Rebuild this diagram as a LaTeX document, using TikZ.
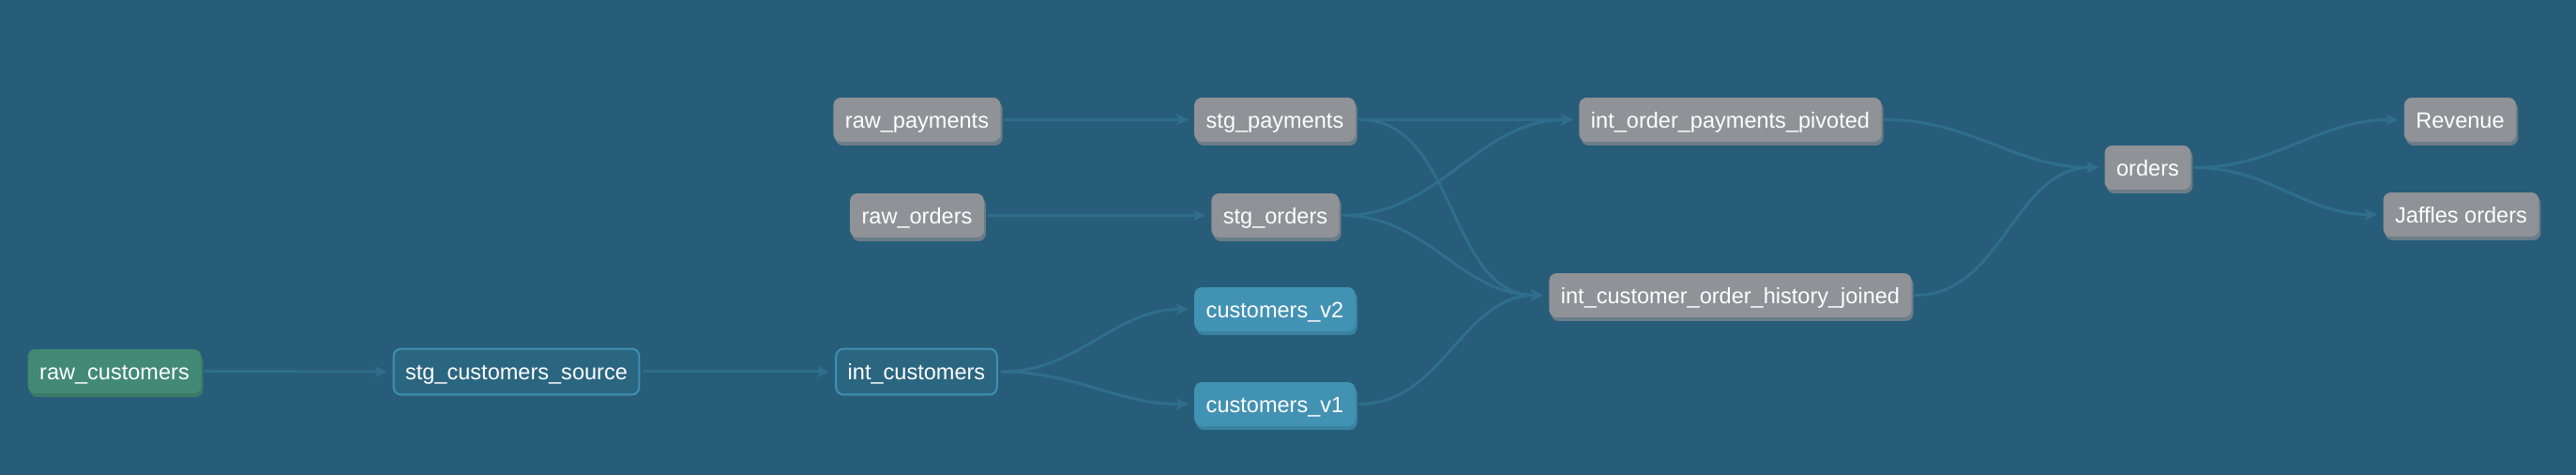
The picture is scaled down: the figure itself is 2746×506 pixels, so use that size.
\documentclass[tikz,border=0pt]{standalone}
\usepackage{fontspec}
\setmainfont{Liberation Sans}
\usetikzlibrary{arrows.meta, positioning}

\definecolor{bgblue}{HTML}{275D78}
\definecolor{edgeblue}{HTML}{2F6E8D}
\definecolor{modelgray}{HTML}{8F9296}
\definecolor{shadegray}{HTML}{6C7D89}
\definecolor{seedgreen}{HTML}{428A73}
\definecolor{shadegreen}{HTML}{3C7A68}
\definecolor{viewblue}{HTML}{4292B3}
\definecolor{shadeblue}{HTML}{3A82A1}
\definecolor{srcfill}{HTML}{2B6681}
\definecolor{srcline}{HTML}{3F8FB5}

\tikzset{
  model/.style={rectangle, rounded corners=0.16cm, minimum height=0.94cm,
    inner xsep=0.25cm, inner ysep=0pt, text=white,
    text height=0.5cm, text depth=0.14cm,
    font=\fontsize{13.4}{16}\selectfont},
  shaded/.style={preaction={fill=#1,
    transform canvas={xshift=0.04cm,yshift=-0.08cm}}},
  graybox/.style={model, fill=modelgray, shaded=shadegray},
  greenbox/.style={model, fill=seedgreen, shaded=shadegreen},
  bluebox/.style={model, fill=viewblue, shaded=shadeblue},
  linebox/.style={model, fill=srcfill, draw=srcline, line width=0.04cm,
    minimum height=0.98cm},
  flow/.style={draw=edgeblue, line width=0.06cm,
    -{Stealth[length=0.26cm,width=0.24cm,inset=0.06cm]},
    shorten <=0.08cm, shorten >=0.12cm}
}

\begin{document}
\begin{tikzpicture}[x=0.02cm,y=-0.02cm,line cap=round,line join=round]
\useasboundingbox (0,0) rectangle (2746,506);
\fill[bgblue] (0,0) rectangle (2746,506);

% customers branch
\node[greenbox] (rawcust) at (122,395.5) {raw\_customers};
\node[linebox] (stgcust) at (550.5,396) {stg\_customers\_source};
\node[linebox] (intcust) at (977,396) {int\_customers};
\node[bluebox] (custvtwo) at (1359,329.5) {customers\_v2};
\node[bluebox] (custvone) at (1359,430.5) {customers\_v1};

% payments and orders
\node[graybox] (rawpay) at (977.5,127.5) {raw\_payments};
\node[graybox] (stgpay) at (1359,127.5) {stg\_payments};
\node[graybox] (raword) at (977.5,229.5) {raw\_orders};
\node[graybox] (stgord) at (1359.5,229.5) {stg\_orders};
\node[graybox] (pivoted) at (1844.5,127.5) {int\_order\_payments\_pivoted};
\node[graybox] (joined) at (1844.5,314.5) {int\_customer\_order\_history\_joined};
\node[graybox] (orders) at (2289.5,178.5) {orders};
\node[graybox] (revenue) at (2622.5,127.5) {Revenue};
\node[graybox] (jaffles) at (2623.5,228.5) {Jaffles orders};

\foreach \src/\dst in {rawcust/stgcust, stgcust/intcust, intcust/custvtwo,
    intcust/custvone, rawpay/stgpay, raword/stgord, stgpay/pivoted,
    stgpay/joined, stgord/pivoted, stgord/joined, custvone/joined,
    pivoted/orders, joined/orders, orders/revenue, orders/jaffles}
  \draw[flow] (\src.east) to[out=0,in=180] (\dst.west);
\end{tikzpicture}
\end{document}
